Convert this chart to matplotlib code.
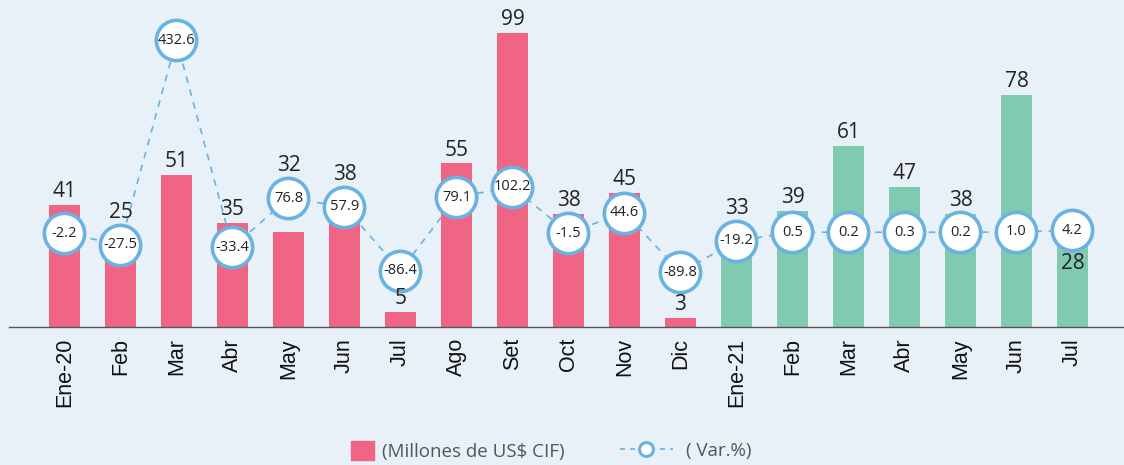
import numpy as np
import matplotlib.pyplot as plt
from matplotlib.patches import Patch
from matplotlib.lines import Line2D

# datos
meses = ["Ene-20", "Feb", "Mar", "Abr", "May", "Jun", "Jul", "Ago", "Set", "Oct", "Nov", "Dic",
         "Ene-21", "Feb", "Mar", "Abr", "May", "Jun", "Jul"]
millones = [41, 25, 51, 35, 32, 38, 5, 55, 99, 38, 45, 3,
            33, 39, 61, 47, 38, 78, 28]
var_pct = [-2.2, -27.5, 432.6, -33.4, 76.8, 57.9, -86.4, 79.1, 102.2, -1.5, 44.6, -89.8,
           -19.2, 0.5, 0.2, 0.3, 0.2, 1.0, 4.2]
anio = [2020] * 12 + [2021] * 7

ROJO = "#ef6583"
VERDE = "#80cbb0"
AZUL = "#6ab2e2"
FONDO = "#e8f1f8"
DPI = 100

fig = plt.figure(figsize=(11.24, 4.65), dpi=DPI, facecolor=FONDO)
ax = fig.add_axes([9 / 1124, 1 - 327 / 465, 1 - 9 / 1124, 327 / 465])
ax.set_facecolor(FONDO)

x = np.arange(len(meses))
colores = [ROJO if a == 2020 else VERDE for a in anio]
ax.bar(x, millones, width=0.55, color=colores, zorder=2)

ax.set_xlim(-0.99, 18.92)
ax.set_ylim(0, 110)
ax.set_xticks(x)
ax.set_xticklabels(meses, rotation=90, fontsize=15.5, family="Liberation Sans", color="#111111")
ax.tick_params(axis="x", length=0, pad=8)
ax.set_yticks([])
for s in ["top", "right", "left"]:
    ax.spines[s].set_visible(False)
ax.spines["bottom"].set_color("#555555")
ax.spines["bottom"].set_linewidth(1.0)

ax2 = ax.twinx()
ax2.set_ylim(-213, 523)
ax2.plot(x, var_pct, color=AZUL, lw=1.2, dashes=(4, 4), zorder=4)
ax2.plot(x, var_pct, "o", ms=29, mfc="white", mec=AZUL, mew=2.6, zorder=5)
for i, v in enumerate(var_pct):
    ax2.text(x[i], v, f"{v:.1f}", ha="center", va="center", fontsize=10.5,
             family="Open Sans", color="#222222", zorder=6)
ax2.set_yticks([])
for s in ["top", "right", "left", "bottom"]:
    ax2.spines[s].set_visible(False)

# etiquetas de barras: sobre la barra, o sobre el circulo si lo tapa
r_circ = 19
alto_txt = 16
for i, v in enumerate(millones):
    y_bar = ax.transData.transform((x[i], v))[1]
    y_circ = ax2.transData.transform((x[i], var_pct[i]))[1]
    lo, hi = y_bar + 3, y_bar + 3 + alto_txt
    if lo < y_circ + r_circ and hi > y_circ - r_circ:
        if i == len(millones) - 1:
            dy = (y_circ - r_circ - 4) - y_bar
            va = "top"
        else:
            dy = (y_circ + r_circ + 3) - y_bar
            va = "bottom"
    else:
        dy = 3
        va = "bottom"
    ax2.annotate(str(v), (x[i], v), xycoords=ax.transData,
                 xytext=(0, dy * 72 / DPI), textcoords="offset points",
                 ha="center", va=va, fontsize=15, family="Open Sans",
                 color="#222222", zorder=7)

leg1 = fig.legend([Patch(color=ROJO)], ["(Millones de US$ CIF)"], loc="center left",
                  bbox_to_anchor=(351 / 1124, 1 - 451 / 465), frameon=False, borderpad=0,
                  borderaxespad=0, prop={"family": "Open Sans", "size": 13.5},
                  handlelength=1.2, handleheight=1.2, handletextpad=0.45)
leg2 = fig.legend([Line2D([0], [0], color=AZUL, lw=1.2, dashes=(3, 3), marker="o", ms=10,
                          mfc="white", mec=AZUL, mew=2.2)], ["( Var.%)"], loc="center left",
                  bbox_to_anchor=(620 / 1124, 1 - 451 / 465), frameon=False, borderpad=0,
                  borderaxespad=0, prop={"family": "Open Sans", "size": 13.5},
                  handlelength=2.8, handletextpad=0.7)
for leg in (leg1, leg2):
    for t in leg.get_texts():
        t.set_color("#555555")

fig.savefig("out.png", dpi=DPI, facecolor=FONDO)
